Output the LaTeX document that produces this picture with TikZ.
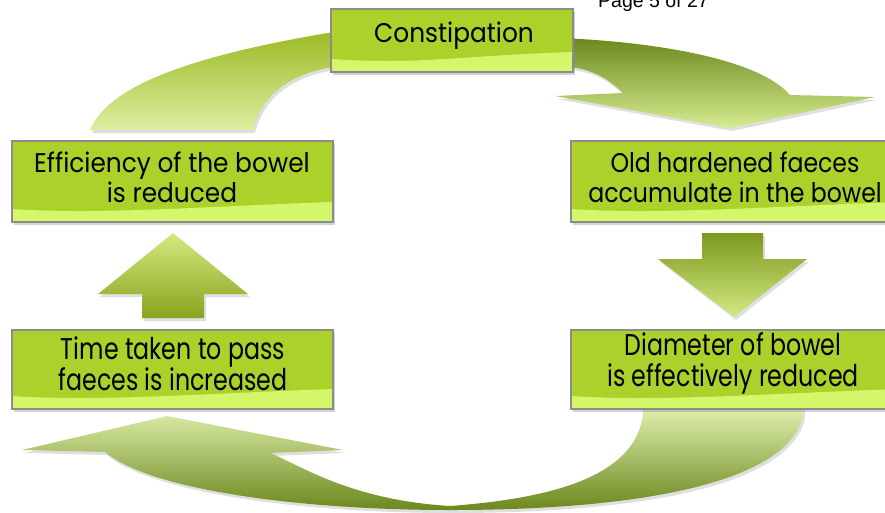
\documentclass[tikz,border=0pt]{standalone}
\usepackage{fontspec}
\setmainfont{Liberation Sans}
\newfontfamily\boxfont[FakeStretch=0.92]{Poppins}
\newfontfamily\tightfont[FakeStretch=0.875]{Poppins}
\newfontfamily\lowfont[FakeStretch=0.79]{Poppins}
\usetikzlibrary{calc,shadows}

\definecolor{boxgreen}{HTML}{ADD12B}
\definecolor{bandlight}{HTML}{D4F66A}
\definecolor{boxedge}{HTML}{8C8C8C}

\tikzset{
  cyclebox/.style={draw=boxedge, line width=1.2pt, fill=boxgreen, inner sep=0pt,
    drop shadow={shadow xshift=2pt, shadow yshift=-3pt, opacity=0.35},
    path picture={\fill[bandlight] ($(path picture bounding box.south west)+(0,-13)$)
      .. controls +(90,6) and +(-120,4) .. ($(path picture bounding box.south east)+(0,-20)$)
      -- (path picture bounding box.south east) -- (path picture bounding box.south west) -- cycle;}},
  boxtext/.style={font=\boxfont\fontsize{27}{30}\selectfont, align=center, inner sep=0pt},
  lowtext/.style={boxtext, font=\lowfont\fontsize{30}{31}\selectfont},
  bandarrow/.style={drop shadow={shadow xshift=2pt, shadow yshift=-3pt, opacity=0.25}},
  pagetext/.style={font=\fontsize{19.5}{22}\selectfont, inner sep=0pt}
}

\begin{document}
\begin{tikzpicture}[x=1pt,y=-1pt]
  \useasboundingbox (0,0) rectangle (885,512);
  \clip (0,0) rectangle (885,512);

  % Page number (cut at the top)
  \node[pagetext, anchor=base west] (pagenum) at (598,7) {Page 5 of 27};

  % Arrow: efficiency -> constipation
  \path[bandarrow, top color={rgb,255:red,156;green,186;blue,36}, middle color={rgb,255:red,180;green,214;blue,42}, bottom color={rgb,255:red,220;green,238;blue,162}]
    (90,130) .. controls (105,95) and (160,60) .. (340,31) -- (340,66)
    .. controls (290,72) and (262,95) .. (253,130) -- cycle;

  % Arrow: constipation -> old hardened faeces
  \path[bandarrow, top color={rgb,255:red,108;green,136;blue,30}, middle color={rgb,255:red,176;green,212;blue,38}, bottom color={rgb,255:red,214;green,236;blue,144}]
    (560,38) .. controls (660,42) and (760,60) .. (790,95) -- (875,97) -- (730,128)
    -- (555,96) -- (623,93) .. controls (605,76) and (590,68) .. (560,66) -- cycle;

  % Arrow: old hardened faeces -> diameter
  \path[bandarrow, top color={rgb,255:red,124;green,152;blue,28}, middle color={rgb,255:red,178;green,212;blue,40}, bottom color={rgb,255:red,210;green,234;blue,132}]
    (702,233) -- (763,233) -- (763,259) -- (807,259) -- (734,317) -- (658,259) -- (702,259) -- cycle;

  % Arrow: diameter -> time taken
  \path[bandarrow, top color={rgb,255:red,226;green,242;blue,176}, middle color={rgb,255:red,180;green,214;blue,42}, bottom color={rgb,255:red,108;green,136;blue,30}]
    (643,405) -- (643,415) .. controls (635,470) and (570,497) .. (450,506)
    .. controls (350,500) and (300,465) .. (270,453) -- (343,450) -- (167,416) -- (22,450)
    -- (105,452) .. controls (150,490) and (300,510) .. (450,510)
    .. controls (650,510) and (790,480) .. (803,415) -- (803,405) -- cycle;

  % Arrow: time taken -> efficiency
  \path[bandarrow, top color={rgb,255:red,210;green,234;blue,128}, middle color={rgb,255:red,180;green,214;blue,42}, bottom color={rgb,255:red,136;green,164;blue,30}]
    (142,318) -- (204,318) -- (204,294) -- (248,294) -- (173,233) -- (98,294) -- (142,294) -- cycle;

  % Boxes
  \node[cyclebox, minimum width=242pt, minimum height=63pt] (constip) at (452,40.5) {};
  \node[cyclebox, minimum width=321pt, minimum height=81pt] (effic) at (172.5,181.5) {};
  \node[cyclebox, minimum width=328pt, minimum height=81pt] (oldhard) at (735,181.5) {};
  \node[cyclebox, minimum width=321pt, minimum height=79pt] (timetaken) at (172.5,369.5) {};
  \node[cyclebox, minimum width=328pt, minimum height=79pt] (diameter) at (735,369.5) {};

  % Texts
  \node[boxtext] (constip-txt) at (454,36) {Constipation};
  \node[boxtext] (effic-txt) at (172,177) {Efficiency of the bowel\\is reduced};
  \node[boxtext, font=\tightfont\fontsize{27}{30}\selectfont] (oldhard-txt) at (735,177) {Old hardened faeces\\accumulate in the bowel};
  \node[lowtext] (timetaken-txt) at (173,364) {Time taken to pass\\faeces is increased};
  \node[lowtext] (diameter-txt) at (733,363) {Diameter of bowel\\is effectively reduced};
\end{tikzpicture}
\end{document}
